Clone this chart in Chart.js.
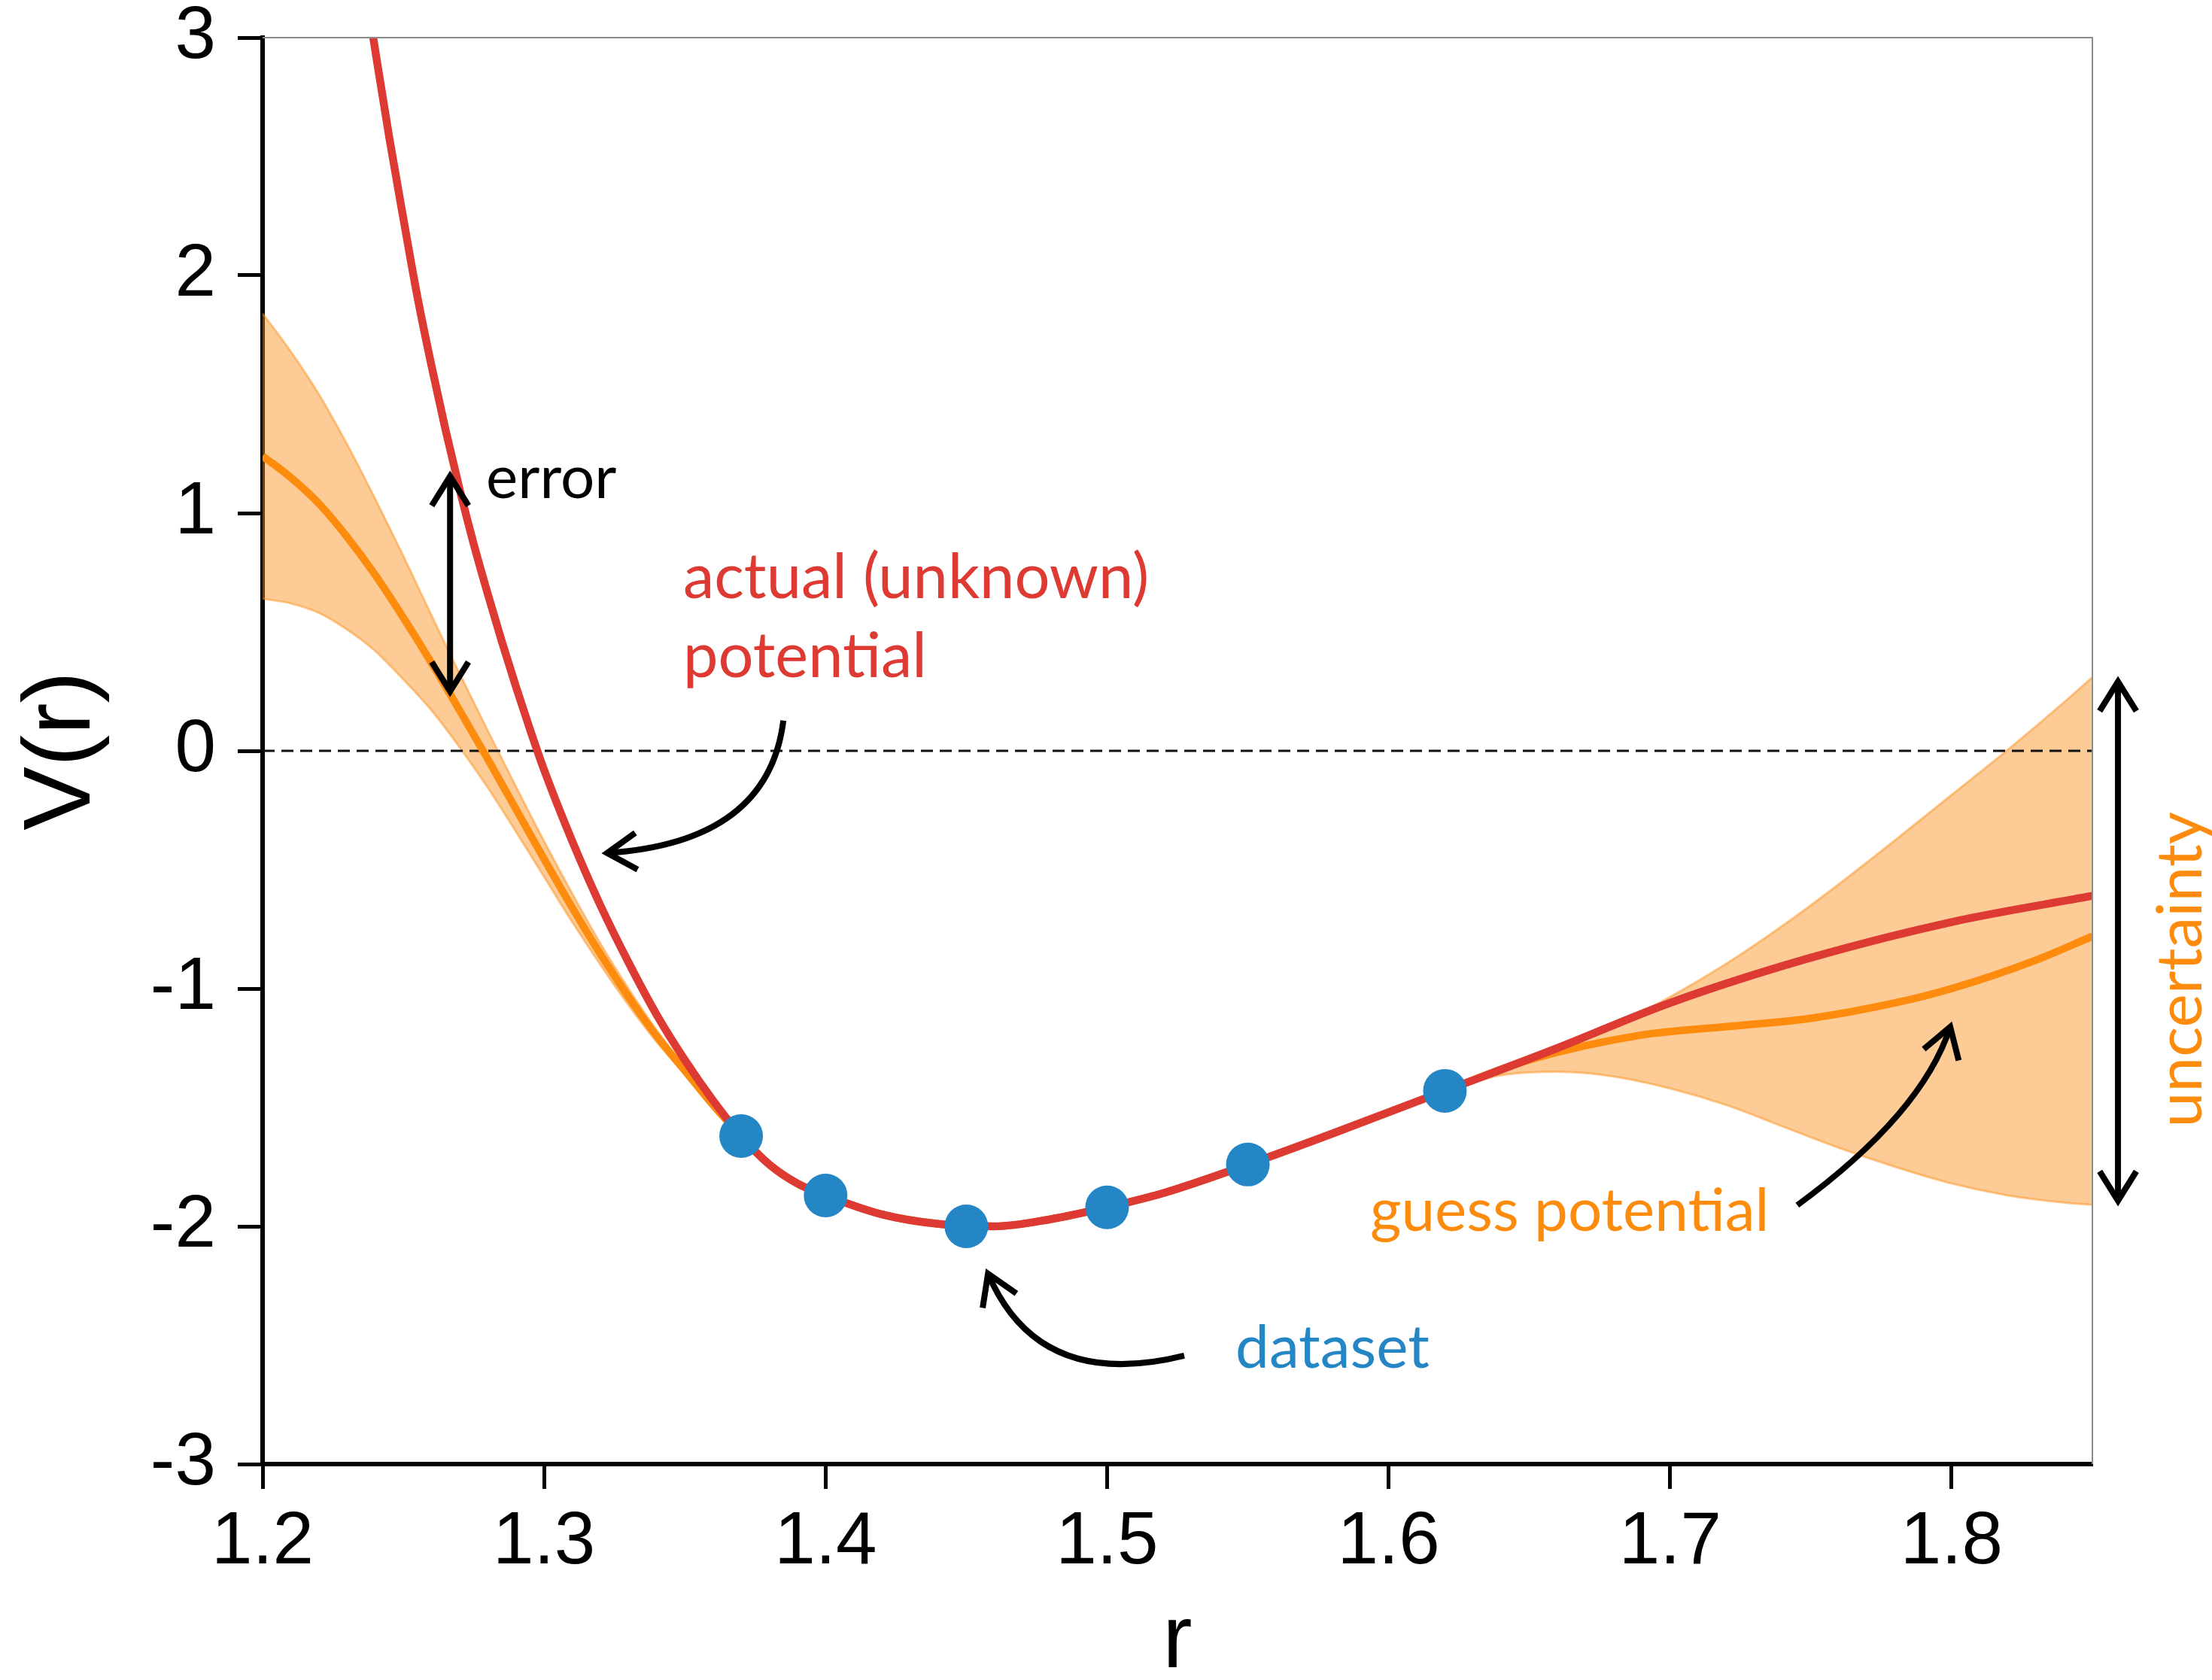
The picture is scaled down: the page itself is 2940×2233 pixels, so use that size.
<!DOCTYPE html>
<html>
<head>
<meta charset="utf-8">
<script src="https://cdn.jsdelivr.net/npm/chart.js@4.4.1/dist/chart.umd.min.js"></script>
<style>
html, body { margin: 0; padding: 0; background: #fff; }
canvas { display: block; }
</style>
</head>
<body>
<canvas id="c" width="2940" height="2233"></canvas>
<script>
// ---- data -------------------------------------------------------------
// training points
const dataR = [1.37, 1.40, 1.45, 1.50, 1.55, 1.62];
const dataV = [-1.62, -1.87, -2.00, -1.92, -1.74, -1.43];

// actual (unknown) potential
const actualR = [1.2393, 1.245, 1.25, 1.255, 1.26, 1.265, 1.27, 1.275, 1.28, 1.285, 1.29, 1.295, 1.30, 1.31, 1.32, 1.33, 1.34, 1.35, 1.36, 1.37, 1.38, 1.39, 1.40, 1.42, 1.44, 1.46, 1.48, 1.50, 1.52, 1.55, 1.58, 1.62, 1.66, 1.70, 1.75, 1.80, 1.85];
const actualV = [3.00, 2.58, 2.24, 1.91, 1.62, 1.35, 1.10, 0.87, 0.66, 0.46, 0.27, 0.09, -0.08, -0.38, -0.65, -0.89, -1.11, -1.30, -1.47, -1.62, -1.74, -1.82, -1.87, -1.95, -1.99, -2.00, -1.97, -1.92, -1.86, -1.74, -1.61, -1.43, -1.25, -1.06, -0.87, -0.72, -0.61];

// guess potential (model mean)
const guessR = [1.20, 1.21, 1.22, 1.23, 1.24, 1.25, 1.26, 1.27, 1.28, 1.29, 1.30, 1.31, 1.32, 1.33, 1.34, 1.35, 1.36, 1.37, 1.38, 1.39, 1.40, 1.42, 1.44, 1.46, 1.48, 1.50, 1.52, 1.55, 1.58, 1.62, 1.65, 1.69, 1.72, 1.75, 1.78, 1.80, 1.83, 1.85];
const guessV = [1.24, 1.15, 1.04, 0.90, 0.74, 0.56, 0.37, 0.17, -0.035, -0.245, -0.455, -0.66, -0.855, -1.035, -1.20, -1.345, -1.49, -1.62, -1.74, -1.82, -1.87, -1.95, -1.99, -2.00, -1.97, -1.92, -1.86, -1.74, -1.61, -1.43, -1.30, -1.195, -1.16, -1.125, -1.06, -1.00, -0.88, -0.78];

// uncertainty band, short-range side
const bandLeftR     = [1.20, 1.21, 1.22, 1.23, 1.24, 1.25, 1.26, 1.27, 1.28, 1.29, 1.30, 1.31, 1.32, 1.33, 1.34, 1.35, 1.36, 1.37];
const bandLeftUpper = [1.84, 1.68, 1.50, 1.29, 1.06, 0.82, 0.57, 0.325, 0.085, -0.15, -0.38, -0.60, -0.81, -1.00, -1.175, -1.33, -1.482, -1.62];
const bandLeftLower = [0.64, 0.62, 0.58, 0.51, 0.42, 0.30, 0.17, 0.015, -0.155, -0.34, -0.53, -0.72, -0.90, -1.07, -1.225, -1.36, -1.498, -1.62];

// uncertainty band, long-range side
const bandRightR     = [1.62, 1.64, 1.66, 1.68, 1.70, 1.72, 1.74, 1.76, 1.78, 1.80, 1.82, 1.84, 1.85];
const bandRightUpper = [-1.43, -1.35, -1.26, -1.155, -1.035, -0.895, -0.735, -0.56, -0.375, -0.185, 0.005, 0.205, 0.31];
const bandRightLower = [-1.43, -1.365, -1.35, -1.37, -1.42, -1.49, -1.58, -1.67, -1.75, -1.82, -1.87, -1.90, -1.91];

// reference level
const zeroR = [1.20, 1.85];
const zeroV = [0, 0];

// axis ticks
const xTicks = [1.2, 1.3, 1.4, 1.5, 1.6, 1.7, 1.8];
const xTickLabels = ['1.2', '1.3', '1.4', '1.5', '1.6', '1.7', '1.8'];
const yTicks = [-3, -2, -1, 0, 1, 2, 3];
const yTickLabels = ['-3', '-2', '-1', '0', '1', '2', '3'];

// ---- styling ------------------------------------------------------------
const RED = '#dc3a32';
const ORANGE = '#fd8c0e';
const BLUE = '#2486c5';
const BAND_FILL = 'rgba(250,140,20,0.45)';
const BAND_EDGE = 'rgba(250,140,20,0.45)';
const AXIS_FONT = "'Liberation Sans', Arial, sans-serif";
const NOTE_FONT = "Lato, 'Open Sans', sans-serif";

const pts = (xs, ys) => xs.map((x, i) => ({ x, y: ys[i] }));

const curve = (data, color, width, extra) => Object.assign({
  data, showLine: true, borderColor: color, borderWidth: width,
  pointRadius: 0, pointHoverRadius: 0, fill: false,
  cubicInterpolationMode: 'monotone'
}, extra || {});

// ---- annotations (positions in data units) ------------------------------
const notes = {
  errorArrow: { r: 1.2666, from: 0.25, to: 1.155 },
  errorText: { r: 1.2794, v: 1.063, text: 'error', color: '#000' },
  actualText: { r: 1.3494, v: [0.642, 0.31], text: ['actual (unknown)', 'potential'], color: RED },
  actualArrow: { start: [1.385, 0.127], ctrl: [1.3796, -0.386], tip: [1.3224, -0.43] },
  datasetText: { r: 1.5456, v: -2.595, text: 'dataset', color: BLUE },
  datasetArrow: { start: [1.5274, -2.544], ctrl: [1.4756, -2.696], tip: [1.4577, -2.199] },
  guessText: { r: 1.5934, v: -2.019, text: 'guess potential', color: ORANGE },
  guessArrow: { start: [1.7452, -1.911], ctrl: [1.7896, -1.525], tip: [1.7995, -1.161] },
  uncArrow: { r: 1.8591, from: -1.892, to: 0.291 },
  uncText: { r: 1.8888, v: -0.92, text: 'uncertainty', color: ORANGE }
};

const ARROW_W = 8;
const HEAD_LEN = 46;
const HEAD_ANG = 32 * Math.PI / 180;

function arrowHead(ctx, tx, ty, dx, dy) {
  const a = Math.atan2(dy, dx);
  ctx.beginPath();
  ctx.moveTo(tx - HEAD_LEN * Math.cos(a - HEAD_ANG), ty - HEAD_LEN * Math.sin(a - HEAD_ANG));
  ctx.lineTo(tx, ty);
  ctx.lineTo(tx - HEAD_LEN * Math.cos(a + HEAD_ANG), ty - HEAD_LEN * Math.sin(a + HEAD_ANG));
  ctx.stroke();
}

const annotationPlugin = {
  id: 'annotations',
  afterDraw(chart) {
    const { ctx, chartArea: ca } = chart;
    const xs = chart.scales.x, ys = chart.scales.y;
    const X = v => xs.getPixelForValue(v);
    const Y = v => ys.getPixelForValue(v);

    ctx.save();
    // thin frame on top and right
    ctx.strokeStyle = '#8c8c8c';
    ctx.lineWidth = 2;
    ctx.beginPath();
    ctx.moveTo(ca.left, ca.top);
    ctx.lineTo(ca.right, ca.top);
    ctx.lineTo(ca.right, ca.bottom);
    ctx.stroke();

    ctx.strokeStyle = '#000';
    ctx.lineWidth = ARROW_W;
    ctx.lineJoin = 'miter';
    ctx.lineCap = 'butt';

    // double arrows
    [notes.errorArrow, notes.uncArrow].forEach(a => {
      const x = X(a.r), y1 = Y(a.from), y2 = Y(a.to);
      ctx.beginPath();
      ctx.moveTo(x, y1);
      ctx.lineTo(x, y2);
      ctx.stroke();
      arrowHead(ctx, x, y1, 0, 1);
      arrowHead(ctx, x, y2, 0, -1);
    });

    // curved pointers
    [notes.actualArrow, notes.datasetArrow, notes.guessArrow].forEach(a => {
      const sx = X(a.start[0]), sy = Y(a.start[1]);
      const cx = X(a.ctrl[0]), cy = Y(a.ctrl[1]);
      const tx = X(a.tip[0]), ty = Y(a.tip[1]);
      ctx.beginPath();
      ctx.moveTo(sx, sy);
      ctx.quadraticCurveTo(cx, cy, tx, ty);
      ctx.stroke();
      const len = Math.hypot(tx - cx, ty - cy);
      arrowHead(ctx, tx, ty, (tx - cx) / len, (ty - cy) / len);
    });

    // labels
    ctx.textBaseline = 'alphabetic';
    ctx.textAlign = 'left';
    ctx.font = '80px ' + NOTE_FONT;
    [notes.errorText, notes.datasetText, notes.guessText].forEach(t => {
      ctx.fillStyle = t.color;
      ctx.fillText(t.text, X(t.r), Y(t.v));
    });
    ctx.font = '83px ' + NOTE_FONT;
    ctx.fillStyle = notes.actualText.color;
    notes.actualText.text.forEach((line, i) => {
      ctx.fillText(line, X(notes.actualText.r), Y(notes.actualText.v[i]));
    });

    const u = notes.uncText;
    ctx.save();
    ctx.font = '84px ' + NOTE_FONT;
    ctx.translate(X(u.r), Y(u.v));
    ctx.rotate(-Math.PI / 2);
    ctx.textAlign = 'center';
    ctx.fillStyle = u.color;
    ctx.fillText(u.text, 0, 0);
    ctx.restore();

    ctx.restore();
  }
};

new Chart(document.getElementById('c'), {
  type: 'scatter',
  data: {
    datasets: [
      {
        data: pts(dataR, dataV), showLine: false,
        pointRadius: 29, pointHoverRadius: 29,
        pointBackgroundColor: BLUE, pointBorderWidth: 0
      },
      curve(pts(actualR, actualV), RED, 10.5),
      curve(pts(guessR, guessV), ORANGE, 10),
      curve(pts(zeroR, zeroV), '#111', 3, { borderDash: [16, 9], cubicInterpolationMode: 'default' }),
      curve(pts(bandLeftR, bandLeftUpper), BAND_EDGE, 3, { fill: '+1', backgroundColor: BAND_FILL }),
      curve(pts(bandLeftR, bandLeftLower), BAND_EDGE, 3),
      curve(pts(bandRightR, bandRightUpper), BAND_EDGE, 3, { fill: '+1', backgroundColor: BAND_FILL }),
      curve(pts(bandRightR, bandRightLower), BAND_EDGE, 3)
    ]
  },
  options: {
    responsive: false,
    devicePixelRatio: 1,
    animation: false,
    events: [],
    layout: { padding: { top: 50, right: 159, bottom: 0, left: 0 } },
    plugins: { legend: { display: false }, tooltip: { enabled: false } },
    scales: {
      x: {
        type: 'linear', min: 1.2, max: 1.85,
        afterBuildTicks: s => { s.ticks = xTicks.map(v => ({ value: v })); },
        afterFit: s => { s.height = 287; s.paddingLeft = 0; s.paddingRight = 0; },
        ticks: {
          callback: (v, i) => xTickLabels[i],
          font: { family: AXIS_FONT, size: 98 }, color: '#000',
          padding: 13, maxRotation: 0, autoSkip: false
        },
        grid: { drawOnChartArea: false, tickLength: 33, tickWidth: 5, tickColor: '#000' },
        border: { color: '#000', width: 6 },
        title: {
          display: true, text: 'r', color: '#000',
          font: { family: AXIS_FONT, size: 118, lineHeight: 0.8 },
          padding: { top: 0, bottom: 2 }
        }
      },
      y: {
        type: 'linear', min: -3, max: 3,
        afterBuildTicks: s => { s.ticks = yTicks.map(v => ({ value: v })); },
        afterFit: s => { s.width = 349; s.paddingTop = 0; s.paddingBottom = 0; },
        ticks: {
          callback: (v, i) => yTickLabels[i],
          font: { family: AXIS_FONT, size: 98, lineHeight: 0.4 }, color: '#000',
          padding: 29, autoSkip: false
        },
        grid: { drawOnChartArea: false, tickLength: 33, tickWidth: 5, tickColor: '#000' },
        border: { color: '#000', width: 6 },
        title: {
          display: true, text: 'V(r)', color: '#000',
          font: { family: AXIS_FONT, size: 127, lineHeight: 1 },
          padding: { top: 20, bottom: 0 }
        }
      }
    }
  },
  plugins: [annotationPlugin]
});
</script>
</body>
</html>
